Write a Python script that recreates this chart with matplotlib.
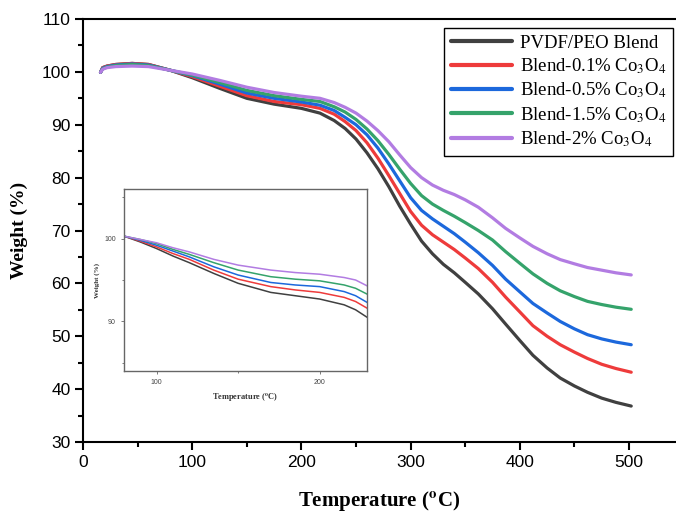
import matplotlib
matplotlib.use("Agg")
import matplotlib.pyplot as plt
from matplotlib.ticker import MultipleLocator

plt.rcParams['font.family'] = ['Liberation Sans', 'DejaVu Sans']
plt.rcParams['mathtext.fontset'] = 'stix'

# temperaturas (oC) e massa (%)
temp = [16, 18, 22, 30, 45, 60, 80, 100, 125, 150, 175, 200, 217, 230, 240, 250, 260, 270, 280,
        290, 300, 310, 320, 330, 340, 350, 362, 375, 387, 400, 412, 425, 437, 450, 462, 475, 488, 502]
blend = [99.9, 100.8, 101.1, 101.4, 101.6, 101.4, 100.3, 98.9, 96.9, 95.0, 93.9, 93.1, 92.2, 90.8,
         89.3, 87.3, 84.7, 81.7, 78.3, 74.6, 71.2, 68.0, 65.6, 63.6, 62.0, 60.2, 58.0, 55.2, 52.3,
         49.2, 46.4, 44.0, 42.1, 40.6, 39.4, 38.3, 37.5, 36.8]
co_01 = [99.9, 100.8, 101.1, 101.4, 101.6, 101.4, 100.3, 99.1, 97.3, 95.5, 94.4, 93.8, 93.1, 92.0,
         90.6, 88.9, 86.6, 83.7, 80.4, 77.0, 73.6, 71.0, 69.2, 67.8, 66.4, 64.8, 62.8, 60.2, 57.4,
         54.6, 52.0, 50.0, 48.4, 47.0, 45.8, 44.7, 43.9, 43.2]
co_05 = [99.9, 100.7, 101.0, 101.3, 101.5, 101.3, 100.3, 99.3, 97.7, 96.0, 95.0, 94.3, 93.7, 92.7,
         91.4, 90.0, 88.1, 85.6, 82.6, 79.4, 76.2, 73.8, 72.2, 70.8, 69.4, 67.8, 65.8, 63.4, 60.8,
         58.4, 56.2, 54.4, 52.8, 51.4, 50.3, 49.5, 48.9, 48.4]
co_15 = [99.9, 100.6, 100.9, 101.2, 101.4, 101.2, 100.3, 99.4, 98.0, 96.5, 95.5, 94.8, 94.4, 93.4,
         92.4, 91.0, 89.2, 87.0, 84.4, 81.6, 78.9, 76.6, 75.0, 73.8, 72.7, 71.5, 70.0, 68.2, 66.0,
         63.8, 61.8, 60.0, 58.6, 57.5, 56.6, 56.0, 55.5, 55.1]
co_2 = [99.9, 100.5, 100.8, 101.0, 101.1, 101.0, 100.3, 99.6, 98.4, 97.1, 96.1, 95.4, 95.0, 94.2,
        93.3, 92.2, 90.7, 88.9, 86.8, 84.3, 81.9, 80.0, 78.6, 77.6, 76.8, 75.8, 74.4, 72.4, 70.4,
        68.6, 67.0, 65.6, 64.5, 63.7, 63.0, 62.5, 62.0, 61.6]

# dados do zoom (inset)
temp_zoom = [80, 90, 100, 110, 120, 135, 150, 170, 185, 200, 215, 222, 229]
blend_zoom = [100.3, 99.6, 98.8, 97.9, 97.1, 95.8, 94.6, 93.5, 93.1, 92.7, 92.0, 91.4, 90.5]
co_01_zoom = [100.3, 99.7, 99.0, 98.2, 97.5, 96.2, 95.1, 94.2, 93.8, 93.5, 92.9, 92.4, 91.6]
co_05_zoom = [100.3, 99.8, 99.2, 98.5, 97.8, 96.6, 95.6, 94.7, 94.4, 94.2, 93.6, 93.1, 92.3]
co_15_zoom = [100.3, 99.9, 99.4, 98.7, 98.1, 97.1, 96.2, 95.4, 95.1, 94.9, 94.4, 94.0, 93.3]
co_2_zoom = [100.3, 99.9, 99.5, 98.9, 98.4, 97.5, 96.8, 96.2, 95.9, 95.7, 95.3, 95.0, 94.3]

labels = ['PVDF/PEO Blend', 'Blend-0.1% Co$_3$O$_4$', 'Blend-0.5% Co$_3$O$_4$',
          'Blend-1.5% Co$_3$O$_4$', 'Blend-2% Co$_3$O$_4$']
cores = ['#404040', '#ee3b3b', '#1c68dc', '#35a36b', '#b27ce2']

series = [blend, co_01, co_05, co_15, co_2]
series_zoom = [blend_zoom, co_01_zoom, co_05_zoom, co_15_zoom, co_2_zoom]

fig = plt.figure(figsize=(6.76, 5.15), dpi=100)
ax = fig.add_axes([0.1228, 0.1417, 0.8772, 0.8214])

for y, c, lab in zip(series, cores, labels):
    ax.plot(temp, y, color=c, lw=2.3, label=lab, solid_capstyle='round', solid_joinstyle='round')

ax.set_xlim(0, 543)
ax.set_ylim(30, 110)
ax.xaxis.set_major_locator(MultipleLocator(100))
ax.xaxis.set_minor_locator(MultipleLocator(50))
ax.yaxis.set_major_locator(MultipleLocator(10))
ax.yaxis.set_minor_locator(MultipleLocator(5))
ax.spines['right'].set_visible(False)
for s in ['left', 'bottom', 'top']:
    ax.spines[s].set_linewidth(1.5)
ax.tick_params(which='major', direction='out', length=6, width=1.5, labelsize=12.5, pad=3)
ax.tick_params(which='minor', direction='out', length=3.5, width=1.5)

ax.set_xlabel('Temperature ($\\mathbf{^{o}}$C)', family='Liberation Serif', fontweight='bold',
              fontsize=15, labelpad=14)
ax.set_ylabel('Weight (%)', family='Liberation Serif', fontweight='bold', fontsize=14, labelpad=10)

leg = ax.legend(loc='upper right', bbox_to_anchor=(0.995, 0.979), borderaxespad=0,
                prop={'family': 'Liberation Serif', 'size': 13.5},
                frameon=True, fancybox=False, edgecolor='black', framealpha=1,
                handlelength=3.3, handletextpad=0.4, labelspacing=0.25, borderpad=0.35)
leg.get_frame().set_linewidth(1.0)
for h in leg.get_lines():
    h.set_linewidth(3)

# inset
axi = fig.add_axes([0.1834, 0.2796, 0.3595, 0.3534])
for y, c in zip(series_zoom, cores):
    axi.plot(temp_zoom, y, color=c, lw=1.1)
axi.set_xlim(80, 229)
axi.set_ylim(84, 106)
axi.xaxis.set_major_locator(MultipleLocator(100))
axi.xaxis.set_minor_locator(MultipleLocator(50))
axi.yaxis.set_major_locator(MultipleLocator(10))
axi.yaxis.set_minor_locator(MultipleLocator(5))
for s in axi.spines.values():
    s.set_color('#666666')
    s.set_linewidth(1.0)
axi.tick_params(which='both', direction='out', colors='#666666', labelcolor='#444444', labelsize=5, width=0.6)
axi.tick_params(which='major', length=2.5)
axi.tick_params(which='minor', length=1.5)
axi.set_xlabel('Temperature ($\\mathbf{^{o}}$C)', family='Liberation Serif', fontweight='bold',
               fontsize=6, color='#333333', labelpad=4)
axi.set_ylabel('Weight (%)', family='Liberation Serif', fontweight='bold', fontsize=5,
               color='#333333', labelpad=3)

fig.savefig('out.png', dpi=100)
